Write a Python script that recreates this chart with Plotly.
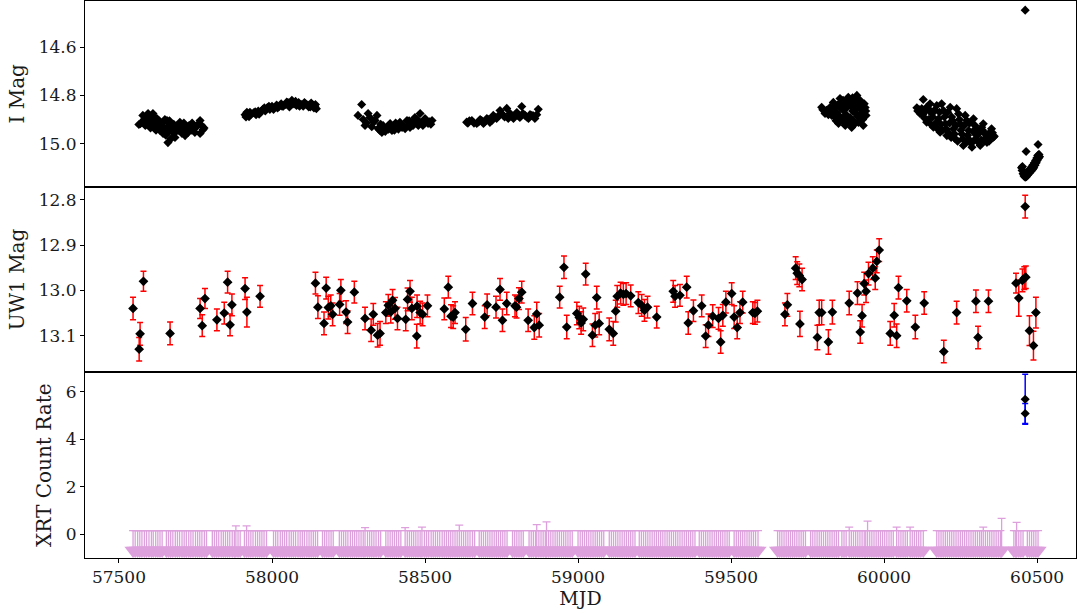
import plotly.graph_objects as go
from plotly.subplots import make_subplots

# ---------------- I band (top panel) ----------------
i_mjd_s1 = [57565, 57575, 57578, 57590, 57595, 57601, 57608, 57611, 57618, 57624, 57628, 57634,
            57641, 57644, 57644, 57657, 57657, 57660, 57667, 57673, 57676, 57683, 57690, 57693,
            57699, 57706, 57709, 57716, 57722, 57726, 57732, 57742, 57748, 57765, 57765, 57775,
            57570, 57582, 57586, 57598, 57603, 57614, 57616, 57621, 57631, 57637, 57647, 57650,
            57653, 57663, 57665, 57670, 57679, 57686, 57696, 57702, 57712, 57719, 57729, 57736,
            57739, 57745, 57753, 57758, 57770, 57778]
i_mag_s1 = [14.921, 14.912, 14.883, 14.912, 14.875, 14.925, 14.904, 14.875, 14.938, 14.896, 14.917, 14.946,
            14.925, 14.958, 14.912, 14.904, 14.933, 14.996, 14.917, 14.938, 14.954, 14.975, 14.933, 14.946,
            14.912, 14.958, 14.933, 14.967, 14.938, 14.954, 14.933, 14.925, 14.954, 14.904, 14.958, 14.942,
            14.918, 14.900, 14.925, 14.890, 14.935, 14.920, 14.890, 14.945, 14.905, 14.930, 14.940, 14.900,
            14.965, 14.950, 14.905, 14.980, 14.920, 14.950, 14.925, 14.940, 14.915, 14.945, 14.925, 14.945,
            14.915, 14.940, 14.930, 14.920, 14.925, 14.935]

i_mjd_s2 = [57912, 57918, 57925, 57932, 57940, 57948, 57955, 57962, 57970, 57978, 57985, 57993,
            58000, 58008, 58015, 58022, 58030, 58037, 58045, 58052, 58060, 58065, 58072, 58080,
            58087, 58095, 58102, 58110, 58117, 58125, 58132, 58140, 58145,
            57915, 57928, 57945, 57958, 57975, 57990, 58005, 58018, 58033, 58048, 58057, 58068,
            58077, 58090, 58106, 58120, 58128, 58137, 58142]
i_mag_s2 = [14.880, 14.870, 14.888, 14.878, 14.872, 14.880, 14.865, 14.870, 14.858, 14.865, 14.850, 14.858,
            14.845, 14.852, 14.840, 14.848, 14.835, 14.845, 14.838, 14.830, 14.840, 14.820, 14.835, 14.842,
            14.830, 14.838, 14.845, 14.835, 14.840, 14.848, 14.838, 14.845, 14.855,
            14.890, 14.870, 14.868, 14.878, 14.852, 14.845, 14.858, 14.852, 14.845, 14.828, 14.848, 14.830,
            14.825, 14.845, 14.830, 14.848, 14.832, 14.852, 14.838]

i_mjd_s3 = [58281, 58293, 58304, 58314, 58320, 58337, 58343, 58347, 58359, 58363, 58376, 58386,
            58392, 58396, 58408, 58418, 58425, 58435, 58441, 58451, 58457, 58467, 58478, 58484,
            58493, 58500, 58510, 58523,
            58298, 58309, 58326, 58332, 58352, 58355, 58370, 58381, 58400, 58404, 58413, 58422,
            58430, 58446, 58448, 58461, 58471, 58475, 58488, 58496, 58505, 58515, 58519]
i_mag_s3 = [14.883, 14.838, 14.925, 14.875, 14.892, 14.904, 14.883, 14.938, 14.954, 14.925, 14.933, 14.917,
            14.946, 14.938, 14.925, 14.912, 14.933, 14.938, 14.904, 14.933, 14.912, 14.892, 14.925, 14.875,
            14.925, 14.896, 14.917, 14.904,
            14.900, 14.915, 14.930, 14.910, 14.945, 14.920, 14.950, 14.940, 14.945, 14.915, 14.940, 14.920,
            14.925, 14.925, 14.905, 14.925, 14.910, 14.900, 14.915, 14.910, 14.905, 14.910, 14.920]

i_mjd_s4 = [58636, 58653, 58669, 58685, 58691, 58702, 58712, 58723, 58734, 58745, 58756, 58767,
            58772, 58778, 58789, 58800, 58810, 58816, 58827, 58838, 58849, 58859, 58870,
            58640, 58645, 58660, 58675, 58680, 58695, 58708, 58718, 58728, 58740, 58750, 58760,
            58783, 58795, 58805, 58820, 58832, 58843, 58854, 58865]
i_mag_s4 = [14.911, 14.904, 14.917, 14.904, 14.917, 14.896, 14.912, 14.883, 14.896, 14.863, 14.883, 14.854,
            14.896, 14.875, 14.896, 14.871, 14.892, 14.846, 14.883, 14.896, 14.883, 14.896, 14.858,
            14.915, 14.905, 14.915, 14.910, 14.900, 14.910, 14.900, 14.905, 14.890, 14.885, 14.875, 14.890,
            14.885, 14.880, 14.885, 14.875, 14.890, 14.880, 14.885, 14.880]

i_mjd_s5 = [59796, 59807, 59823, 59829, 59834, 59840, 59845, 59851, 59856, 59856, 59862, 59867,
            59873, 59878, 59878, 59883, 59889, 59889, 59894, 59900, 59900, 59905, 59911, 59911,
            59916, 59922, 59922, 59927, 59932, 59938, 59941,
            59800, 59812, 59818, 59826, 59837, 59843, 59848, 59853, 59859, 59865, 59870, 59876,
            59880, 59886, 59892, 59897, 59903, 59908, 59913, 59918, 59925, 59930, 59935, 59940,
            59897, 59881, 59866]
i_mag_s5 = [14.849, 14.875, 14.850, 14.883, 14.829, 14.892, 14.871, 14.917, 14.813, 14.850, 14.896, 14.863,
            14.925, 14.850, 14.917, 14.808, 14.892, 14.821, 14.933, 14.833, 14.904, 14.871, 14.800, 14.854,
            14.912, 14.821, 14.896, 14.875, 14.925, 14.850, 14.883,
            14.860, 14.862, 14.880, 14.870, 14.850, 14.905, 14.840, 14.885, 14.830, 14.905, 14.840, 14.880,
            14.830, 14.910, 14.845, 14.865, 14.920, 14.820, 14.885, 14.840, 14.860, 14.900, 14.835, 14.865,
            14.810, 14.905, 14.820]

i_mjd_s6 = [60107, 60118, 60123, 60128, 60139, 60139, 60150, 60156, 60161, 60172, 60178, 60183,
            60188, 60194, 60200, 60205, 60216, 60221, 60227, 60232, 60237, 60243, 60249, 60254,
            60259, 60265, 60270, 60276, 60281, 60287, 60292, 60297, 60303, 60314, 60319, 60324,
            60330, 60336, 60346, 60351, 60357,
            60110, 60115, 60126, 60133, 60136, 60145, 60148, 60153, 60159, 60166, 60169, 60175,
            60181, 60186, 60191, 60197, 60203, 60208, 60211, 60214, 60219, 60224, 60230, 60235,
            60240, 60246, 60251, 60257, 60262, 60268, 60273, 60279, 60284, 60290, 60295, 60300,
            60308, 60311, 60317, 60322, 60327, 60333, 60340, 60343, 60349, 60354, 60360]
i_mag_s6 = [14.851, 14.876, 14.855, 14.817, 14.849, 14.911, 14.835, 14.876, 14.932, 14.842, 14.897, 14.953,
            14.835, 14.863, 14.918, 14.967, 14.849, 14.890, 14.939, 14.980, 14.855, 14.876, 14.918, 14.960,
            15.008, 14.883, 14.904, 14.946, 14.988, 15.015, 14.897, 14.925, 14.967, 15.008, 14.932, 14.918,
            14.960, 14.995, 14.953, 14.939, 14.974,
            14.865, 14.860, 14.880, 14.895, 14.865, 14.900, 14.860, 14.920, 14.890, 14.860, 14.915, 14.940,
            14.870, 14.920, 14.945, 14.890, 14.940, 14.870, 14.955, 14.915, 14.975, 14.905, 14.960, 14.925,
            14.990, 14.900, 14.945, 14.980, 14.925, 14.995, 14.965, 14.915, 15.000, 14.950, 14.985, 14.940,
            14.995, 14.955, 14.985, 14.945, 14.990, 14.975, 14.965, 14.990, 14.965, 14.955, 14.970]

i_mjd_s7 = [60461, 60464, 60503, 60449, 60451, 60454, 60457, 60461, 60465, 60470, 60475, 60480,
            60485, 60489, 60493, 60497, 60500, 60504, 60508,
            60452, 60456, 60459, 60463, 60468, 60473, 60478, 60483, 60487, 60491, 60495, 60499,
            60502, 60506]
i_mag_s7 = [14.446, 15.033, 15.004, 15.100, 15.112, 15.125, 15.135, 15.140, 15.138, 15.130, 15.122, 15.115,
            15.108, 15.100, 15.090, 15.080, 15.070, 15.062, 15.055,
            15.095, 15.115, 15.125, 15.128, 15.120, 15.112, 15.104, 15.095, 15.088, 15.080, 15.070, 15.060,
            15.050, 15.045]

i_mjd = i_mjd_s1 + i_mjd_s2 + i_mjd_s3 + i_mjd_s4 + i_mjd_s5 + i_mjd_s6 + i_mjd_s7
i_mag = i_mag_s1 + i_mag_s2 + i_mag_s3 + i_mag_s4 + i_mag_s5 + i_mag_s6 + i_mag_s7

# ---------------- UVOT UW1 (middle panel) ----------------
uw1_mjd = [
    57546, 57566, 57569, 57580, 57667, 57765, 57772, 57781, 57820, 57844, 57855, 57863,
    57869, 57912, 57918, 57961, 58142, 58150, 58170, 58177, 58184, 58192, 58198, 58221,
    58225, 58242, 58247, 58269, 58304, 58324, 58331, 58345, 58353, 58372, 58380, 58388,
    58394, 58402, 58410, 58437, 58443, 58451, 58457, 58473, 58474, 58484, 58492, 58508,
    58563, 58576, 58585, 58592, 58598, 58633, 58655, 58695, 58703, 58732, 58745, 58753,
    58767, 58794, 58799, 58807, 58816, 58837, 58857, 58865, 58873, 58940, 58954, 58963,
    58996, 59004, 59010, 59017, 59025, 59047, 59056, 59061, 59069, 59102, 59115, 59123,
    59128, 59139, 59148, 59157, 59172, 59197, 59208, 59217, 59227, 59257, 59311, 59317,
    59333, 59355, 59360, 59377, 59404, 59417, 59426, 59440, 59459, 59466, 59473, 59483,
    59502, 59510, 59520, 59529, 59538, 59571, 59578, 59586, 59676, 59684, 59711, 59716,
    59723, 59732, 59725, 59782, 59788, 59796, 59818, 59831, 59886, 59913, 59922, 59928,
    59935, 59941, 59949, 59963, 59971, 59976, 59984, 60020, 60033, 60041, 60047, 60074,
    60102, 60131, 60195, 60237, 60300, 60307, 60341, 60431, 60440, 60452, 60458, 60463,
    60461, 60475, 60488, 60496,
]
uw1_mag = [
    13.040, 13.130, 13.096, 12.980, 13.095, 13.040, 13.078, 13.018, 13.065, 13.050, 12.982, 13.076,
    13.032, 12.996, 13.048, 13.013, 12.984, 13.037, 13.073, 12.995, 13.038, 13.034, 13.053, 13.031,
    13.000, 13.048, 13.070, 13.004, 13.062, 13.088, 13.053, 13.099, 13.095, 13.049, 13.033, 13.048,
    13.022, 13.040, 13.062, 13.064, 13.020, 13.002, 13.040, 13.101, 13.035, 13.049, 13.053, 13.034,
    13.041, 12.993, 13.057, 13.059, 13.049, 13.086, 13.029, 13.059, 13.032, 13.037, 12.998, 13.066,
    13.029, 13.034, 13.037, 13.018, 13.004, 13.066, 13.082, 13.052, 13.077, 13.015, 12.949, 13.081,
    13.051, 13.060, 13.072, 13.064, 12.964, 13.099, 13.077, 13.016, 13.073, 13.086, 13.095, 13.046,
    13.013, 13.006, 13.009, 13.007, 13.012, 13.027, 13.033, 13.044, 13.037, 13.059, 13.002, 13.013,
    13.011, 12.993, 13.072, 13.045, 13.034, 13.101, 13.077, 13.057, 13.062, 13.114, 13.055, 13.026,
    13.007, 13.059, 13.082, 13.049, 13.026, 13.049, 13.051, 13.046, 13.053, 13.032, 12.951, 12.962,
    12.967, 12.976, 13.074, 13.104, 13.049, 13.049, 13.114, 13.048, 13.028, 13.006, 13.092, 13.056,
    12.985, 13.002, 12.963, 12.951, 12.973, 12.936, 12.911, 13.095, 13.055, 13.100, 12.994, 13.023,
    13.081, 13.028, 13.135, 13.049, 13.024, 13.104, 13.024, 12.984, 13.017, 12.978, 12.973, 12.971,
    12.815, 13.089, 13.122, 13.049,
]
uw1_err = [
    0.025, 0.026, 0.025, 0.022, 0.025, 0.022, 0.024, 0.022, 0.024, 0.024, 0.024, 0.024,
    0.024, 0.024, 0.033, 0.024, 0.024, 0.025, 0.025, 0.024, 0.025, 0.024, 0.025, 0.024,
    0.024, 0.025, 0.025, 0.024, 0.025, 0.025, 0.024, 0.026, 0.026, 0.024, 0.024, 0.024,
    0.024, 0.024, 0.025, 0.025, 0.025, 0.024, 0.025, 0.026, 0.025, 0.025, 0.025, 0.024,
    0.024, 0.024, 0.025, 0.025, 0.024, 0.026, 0.025, 0.025, 0.024, 0.024, 0.024, 0.025,
    0.025, 0.024, 0.024, 0.024, 0.024, 0.025, 0.026, 0.026, 0.026, 0.024, 0.025, 0.026,
    0.025, 0.025, 0.025, 0.025, 0.024, 0.025, 0.026, 0.025, 0.025, 0.025, 0.026, 0.024,
    0.024, 0.024, 0.024, 0.024, 0.024, 0.024, 0.024, 0.024, 0.024, 0.024, 0.024, 0.024,
    0.024, 0.024, 0.025, 0.024, 0.024, 0.025, 0.025, 0.025, 0.024, 0.025, 0.024, 0.024,
    0.024, 0.025, 0.025, 0.024, 0.024, 0.024, 0.024, 0.024, 0.025, 0.025, 0.025, 0.025,
    0.025, 0.025, 0.028, 0.027, 0.027, 0.027, 0.027, 0.026, 0.026, 0.025, 0.025, 0.025,
    0.025, 0.025, 0.025, 0.025, 0.025, 0.025, 0.025, 0.026, 0.026, 0.026, 0.025, 0.025,
    0.026, 0.025, 0.025, 0.025, 0.025, 0.025, 0.025, 0.022, 0.040, 0.025, 0.025, 0.025,
    0.025, 0.033, 0.032, 0.034,
]

# ---------------- XRT (bottom panel) ----------------
xrt_det_mjd = [60461, 60461]
xrt_det_rate = [5.68, 5.08]
xrt_det_err = [1.05, 0.42]

xrt_ul_mjd = [
    57546, 57553, 57561, 57568, 57575, 57583, 57590, 57598, 57606, 57612, 57620, 57627,
    57634, 57641, 57655, 57662, 57669, 57676, 57684, 57691, 57698, 57706, 57713, 57720,
    57728, 57735, 57742, 57750, 57757, 57764, 57771, 57779, 57786, 57805, 57812, 57819,
    57826, 57834, 57841, 57848, 57855, 57862, 57870, 57877, 57882, 57889, 57896, 57910,
    57917, 57924, 57931, 57938, 57946, 57953, 57960, 57967, 57974, 57982,
    58005, 58012, 58019, 58027, 58034, 58041, 58048, 58056, 58063, 58070, 58077, 58085,
    58092, 58099, 58106, 58114, 58121, 58128, 58135, 58142, 58149, 58165, 58172, 58179,
    58186, 58193, 58200, 58220, 58227, 58234, 58241, 58248, 58256, 58263, 58270, 58277,
    58284, 58291, 58298, 58304, 58312, 58319, 58326, 58333, 58340, 58348, 58355, 58372,
    58379, 58386, 58393, 58400, 58407, 58414, 58421, 58435, 58442, 58449, 58456, 58463,
    58470, 58477, 58484, 58490, 58498, 58505, 58512, 58520, 58527, 58534, 58541, 58548,
    58556, 58563, 58570, 58577, 58584, 58591, 58598, 58605, 58612, 58619, 58626, 58633,
    58640, 58647, 58655, 58662, 58677, 58684, 58691, 58698, 58705, 58712, 58719, 58726,
    58733, 58740, 58747, 58754, 58761, 58768, 58786, 58793, 58800, 58807, 58814, 58821,
    58840, 58847, 58854, 58861, 58865, 58872, 58879, 58886, 58893, 58897, 58904, 58911,
    58918, 58925, 58932, 58939, 58946, 58953, 58960, 58967, 58974, 58981, 59000, 59007,
    59014, 59021, 59028, 59035, 59042, 59049, 59056, 59063, 59070, 59077, 59084, 59102,
    59109, 59116, 59123, 59130, 59137, 59144, 59151, 59158, 59165, 59172, 59179, 59186,
    59200, 59207, 59214, 59221, 59228, 59235, 59242, 59249, 59256, 59263, 59270, 59277,
    59284, 59291, 59298, 59305, 59312, 59319, 59326, 59333, 59340, 59347, 59354, 59361,
    59368, 59375, 59382, 59396, 59403, 59410, 59417, 59424, 59431, 59438, 59445, 59452,
    59459, 59466, 59473, 59480, 59487, 59494, 59510, 59517, 59524, 59531, 59538, 59545,
    59552, 59559, 59566, 59573, 59580, 59588,
    59652, 59659, 59666, 59673, 59680, 59687, 59694, 59701, 59708, 59715, 59722, 59729,
    59736, 59743, 59760, 59767, 59774, 59781, 59788, 59795, 59802, 59809, 59816, 59823,
    59830, 59837, 59844, 59851, 59862, 59869, 59876, 59886, 59893, 59900, 59907, 59914,
    59921, 59928, 59935, 59940, 59946, 59953, 59960, 59967, 59974, 59981, 59988, 59995,
    60002, 60009, 60016, 60023, 60030, 60041, 60048, 60055, 60062, 60069, 60076, 60085,
    60092, 60099, 60106, 60113, 60120, 60128,
    60172, 60179, 60186, 60193, 60200, 60207, 60214, 60221, 60228, 60235, 60242, 60249,
    60256, 60263, 60270, 60277, 60284, 60291, 60298, 60305, 60312, 60318, 60324, 60331,
    60338, 60345, 60352, 60359, 60366, 60373, 60380, 60384,
    60424, 60430, 60433, 60440, 60447, 60454, 60468, 60475, 60482, 60489, 60496, 60503,
]
xrt_ul_level = -0.68         # plotted position of the upper-limit triangles
xrt_ul_cap_default = 0.15    # typical top of the upper-limit bars
xrt_ul_high_mjd = [57882, 57917, 58304, 58435, 58490, 58612, 58865, 58897,
                   59886, 59946, 60041, 60085, 60324, 60384, 60433]
xrt_ul_high_cap = [0.35, 0.35, 0.28, 0.28, 0.30, 0.38, 0.40, 0.52,
                   0.30, 0.55, 0.30, 0.30, 0.30, 0.67, 0.50]

high = dict(zip(xrt_ul_high_mjd, xrt_ul_high_cap))
ul_top = [high.get(m, xrt_ul_cap_default) for m in xrt_ul_mjd]
ul_y = [xrt_ul_level for _ in xrt_ul_mjd]
ul_up = [t - xrt_ul_level for t in ul_top]
ul_dn = [0 for _ in xrt_ul_mjd]

# ---------------- figure ----------------
fig = make_subplots(rows=3, cols=1, shared_xaxes=True, vertical_spacing=0)

fig.add_trace(go.Scatter(
    x=i_mjd, y=i_mag, mode="markers",
    marker=dict(symbol="diamond", size=7, color="black"),
    showlegend=False), row=1, col=1)

fig.add_trace(go.Scatter(
    x=uw1_mjd, y=uw1_mag, mode="markers",
    error_y=dict(type="data", array=uw1_err, visible=True, color="red",
                 thickness=1.5, width=3),
    marker=dict(symbol="diamond", size=7.5, color="black"),
    showlegend=False), row=2, col=1)

fig.add_trace(go.Scatter(
    x=xrt_ul_mjd, y=ul_y, mode="markers",
    error_y=dict(type="data", symmetric=False, array=ul_up, arrayminus=ul_dn,
                 visible=True, color="plum", thickness=1.3, width=4),
    marker=dict(symbol="triangle-down", size=15, color="plum"),
    showlegend=False), row=3, col=1)

fig.add_trace(go.Scatter(
    x=xrt_det_mjd, y=xrt_det_rate, mode="markers",
    error_y=dict(type="data", array=xrt_det_err, visible=True, color="blue",
                 thickness=1.5, width=3),
    marker=dict(symbol="diamond", size=7, color="black"),
    showlegend=False), row=3, col=1)

font_family = "DejaVu Serif"
txt = "#1a1a1a"
axis_common = dict(showline=True, linecolor="black", linewidth=1, mirror=True,
                   showgrid=False, zeroline=False, ticks="outside", ticklen=4,
                   tickcolor="black", tickfont=dict(size=17, color=txt))

fig.update_xaxes(range=[57389, 60627], **axis_common)
fig.update_xaxes(showticklabels=False, ticks="", row=1, col=1)
fig.update_xaxes(showticklabels=False, ticks="", row=2, col=1)
fig.update_xaxes(tickvals=[57500, 58000, 58500, 59000, 59500, 60000, 60500], tickformat="d",
                 title=dict(text="MJD", font=dict(size=19, color=txt), standoff=4),
                 row=3, col=1)

fig.update_yaxes(**axis_common)
fig.update_yaxes(range=[15.179, 14.408], tickvals=[14.6, 14.8, 15.0], tickformat=".1f",
                 title=dict(text="I Mag", font=dict(size=20, color=txt), standoff=8),
                 row=1, col=1)
fig.update_yaxes(range=[13.181, 12.771], tickvals=[12.8, 12.9, 13.0, 13.1], tickformat=".1f",
                 title=dict(text="UW1 Mag", font=dict(size=20, color=txt), standoff=8),
                 row=2, col=1)
fig.update_yaxes(range=[-1.0, 6.81], tickvals=[0, 2, 4, 6],
                 title=dict(text="XRT Count Rate", font=dict(size=20, color=txt), standoff=8),
                 row=3, col=1)

fig.update_layout(
    width=1077, height=614,
    margin=dict(l=85, r=1, t=1, b=56),
    paper_bgcolor="white", plot_bgcolor="white",
    font=dict(family=font_family, color=txt),
)

fig.write_html("out.html", config={"displayModeBar": False},
               post_script="document.body.style.margin='0';document.body.style.overflow='hidden';")
